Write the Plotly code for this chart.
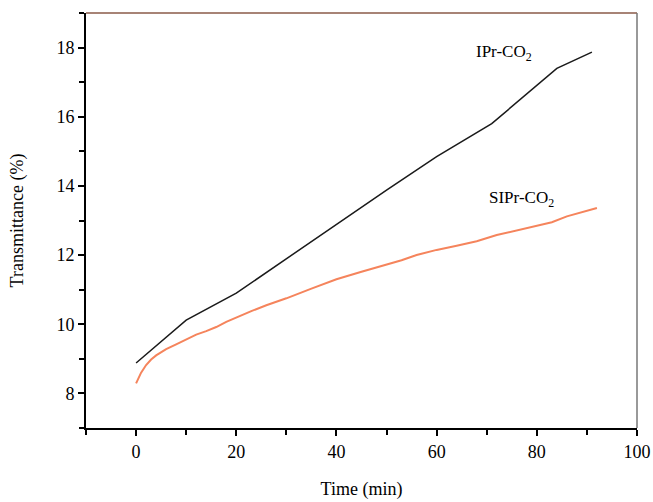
import plotly.graph_objects as go

ipr_x = [0, 10, 20, 30, 40, 50, 60, 71, 84, 91]
ipr_y = [8.88, 10.12, 10.9, 11.9, 12.88, 13.88, 14.85, 15.8, 17.4, 17.87]

sipr_x = [0, 1, 2, 3, 4, 5, 6, 8, 10, 12, 14, 16, 18, 20, 23, 26, 30, 35, 40, 45,
          50, 53, 56, 60, 64, 68, 72, 76, 80, 83, 86, 89, 92]
sipr_y = [8.29, 8.6, 8.82, 8.98, 9.1, 9.2, 9.28, 9.42, 9.57, 9.7, 9.8, 9.92, 10.07,
          10.2, 10.38, 10.55, 10.75, 11.03, 11.3, 11.52, 11.72, 11.85, 12.0, 12.15,
          12.27, 12.4, 12.58, 12.72, 12.85, 12.95, 13.12, 13.25, 13.36]

x_ticks = [0, 20, 40, 60, 80, 100]
y_ticks = [8, 10, 12, 14, 16, 18]

FONT = "Liberation Serif, Times New Roman, serif"

fig = go.Figure()
fig.add_trace(go.Scatter(x=ipr_x, y=ipr_y, mode="lines", name="IPr-CO2",
                         line=dict(color="#1a1a1a", width=1.5)))
fig.add_trace(go.Scatter(x=sipr_x, y=sipr_y, mode="lines", name="SIPr-CO2",
                         line=dict(color="#f5845c", width=2)))

fig.add_annotation(x=73.5, y=17.85, text="IPr-CO<sub>2</sub>", showarrow=False,
                   font=dict(family=FONT, size=17, color="black"))
fig.add_annotation(x=77.0, y=13.63, text="SIPr-CO<sub>2</sub>", showarrow=False,
                   font=dict(family=FONT, size=17, color="black"))

# top and right frame lines
fig.add_shape(type="line", xref="paper", yref="paper", x0=0, x1=1, y0=1, y1=1,
              line=dict(color="#8a5a48", width=1.5))
fig.add_shape(type="line", xref="paper", yref="paper", x0=1, x1=1, y0=0, y1=1,
              line=dict(color="#777777", width=1.5))

fig.update_layout(
    width=653, height=502,
    margin=dict(l=86, r=16, t=13, b=74),
    paper_bgcolor="white", plot_bgcolor="white",
    showlegend=False,
    font=dict(family=FONT, size=18, color="black"),
    xaxis=dict(range=[-10, 100], tickvals=x_ticks, ticks="outside", ticklen=6,
               tickwidth=2, tickcolor="black", showline=True, linecolor="black",
               linewidth=2, showgrid=False, zeroline=False, automargin=False,
               minor=dict(dtick=10, tick0=0, ticks="outside", ticklen=5,
                          tickcolor="black", tickwidth=1.5),
               title=dict(text="Time (min)", font=dict(size=18), standoff=22),
               tickfont=dict(size=18)),
    yaxis=dict(range=[7, 19], tickvals=y_ticks, ticks="outside", ticklen=6,
               tickwidth=2, tickcolor="black", showline=True, linecolor="black",
               linewidth=2, showgrid=False, zeroline=False, automargin=False,
               minor=dict(dtick=1, tick0=0, ticks="outside", ticklen=5,
                          tickcolor="black", tickwidth=1.5),
               title=dict(text="Transmittance (%)", font=dict(size=18), standoff=28),
               tickfont=dict(size=18)),
)

fig.write_html("out.html", config={"displayModeBar": False},
               post_script="document.body.style.margin='0';document.body.style.overflow='hidden';")
